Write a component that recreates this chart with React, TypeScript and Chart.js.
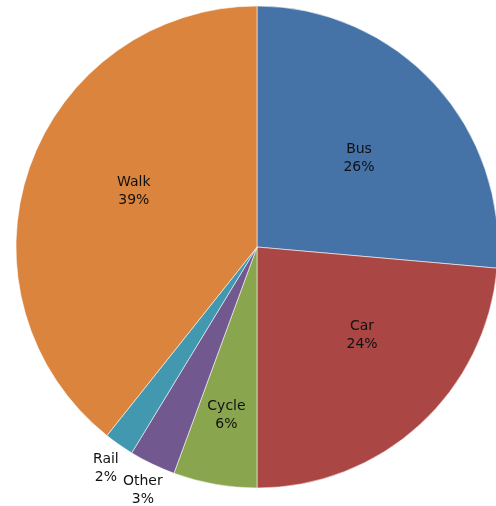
import React, { useEffect, useRef } from "react";
import { Chart, registerables } from "chart.js";

Chart.register(...registerables);

const categories = ["Bus", "Car", "Cycle", "Other", "Rail", "Walk"];
const shares = [26.4, 23.6, 5.6, 3.1, 2.0, 39.3];
const colors = ["#4572a7", "#aa4643", "#89a54e", "#71588f", "#4198af", "#db843d"];

const labelPlugin = {
  id: "sliceLabels",
  afterDatasetsDraw(chart: any, _args: any, opts: any) {
    const meta = chart.getDatasetMeta(0);
    const ctx = chart.ctx;
    const total = shares.reduce((a, b) => a + b, 0);
    const nudge: number[] = opts.angleNudge || [];
    ctx.save();
    ctx.font = "14px 'DejaVu Sans'";
    ctx.fillStyle = "#111";
    ctx.textAlign = "center";
    ctx.textBaseline = "middle";
    meta.data.forEach((arc: any, i: number) => {
      const p = arc.getProps(["x", "y", "startAngle", "endAngle", "outerRadius"], true);
      const mid = (p.startAngle + p.endAngle) / 2 + ((nudge[i] || 0) * Math.PI) / 180;
      const pct = (shares[i] / total) * 100;
      const f = pct >= 10 ? 0.565 : pct >= 5 ? 0.7 : 1.11;
      const dx = pct >= 10 ? 0 : pct >= 5 ? -1 : 2;
      const cx = p.x + Math.cos(mid) * p.outerRadius * f + dx;
      const cy = p.y + Math.sin(mid) * p.outerRadius * f + 2;
      ctx.fillText(categories[i], cx, cy - 9);
      ctx.fillText(Math.round(pct) + "%", cx, cy + 9);
    });
    ctx.restore();
  },
};

export default function App() {
  const ref = useRef<HTMLCanvasElement>(null);
  useEffect(() => {
    if (!ref.current) return;
    const chart = new Chart(ref.current, {
      type: "pie",
      data: {
        labels: categories,
        datasets: [
          {
            data: shares,
            backgroundColor: colors,
            borderColor: "rgba(255,255,255,0.55)",
            borderWidth: 1,
            hoverOffset: 0,
          },
        ],
      },
      options: {
        responsive: false,
        animation: false,
        radius: 241,
        layout: { padding: { left: 6, right: 6, top: 6, bottom: 18 } },
        plugins: {
          legend: { display: false },
          tooltip: { enabled: false },
          sliceLabels: { angleNudge: [1, -8, 0, 0, 0, 6] },
        },
        events: [],
      } as any,
      plugins: [labelPlugin],
    });
    return () => chart.destroy();
  }, []);
  return (
    <div
      style={{
        position: "fixed",
        left: 0,
        top: 0,
        width: "100vw",
        height: "100vh",
        overflow: "hidden",
        background: "#fff",
      }}
    >
      <canvas
        ref={ref}
        width={514}
        height={506}
        style={{ display: "block", width: 514, height: 506 }}
      />
    </div>
  );
}
